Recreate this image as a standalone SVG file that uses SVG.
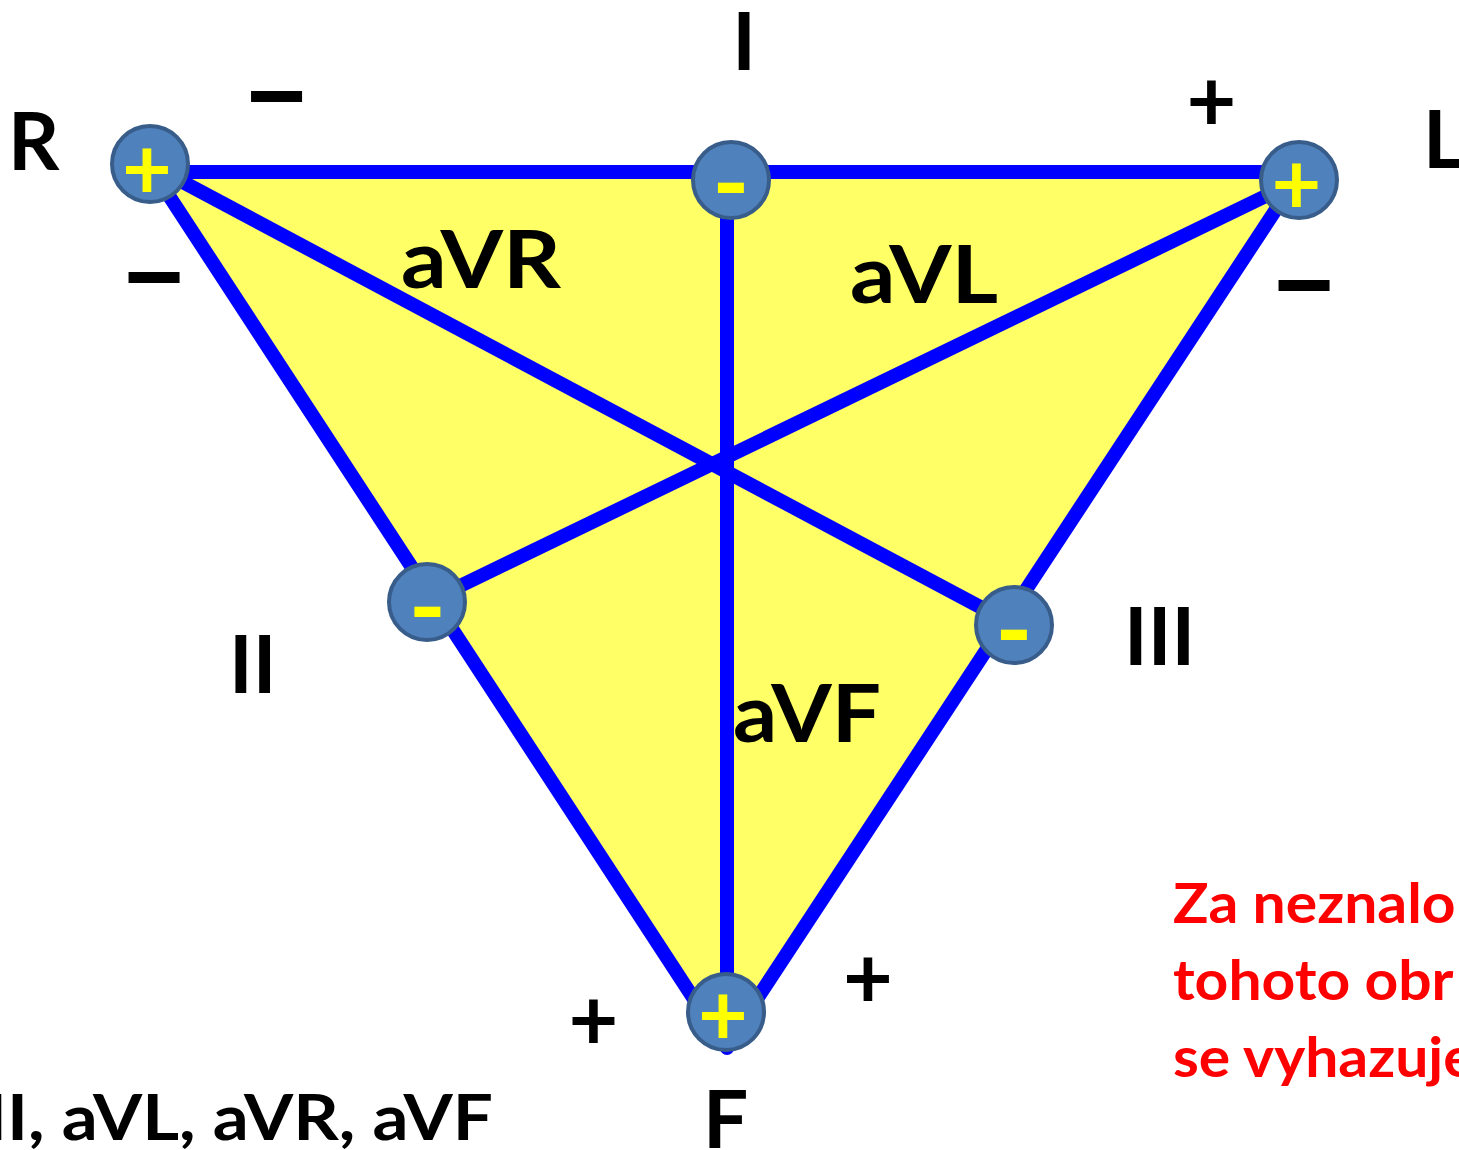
<svg xmlns="http://www.w3.org/2000/svg" width="1459" height="1150" viewBox="0 0 1459 1150">
<style>
.lbl{font-family:Lato,"Open Sans","Liberation Sans",sans-serif;font-weight:bold;fill:#000}
.big{font-size:80px}
.plus{font-size:86px;text-anchor:middle}
.dash{font-size:126px;text-anchor:middle}
.red{font-family:Lato,"Open Sans","Liberation Sans",sans-serif;font-weight:bold;font-size:56px;fill:#FF0000}
.node circle{fill:#4F81BD;stroke:#385D8A;stroke-width:4}
.node text{font-family:Lato,"Open Sans","Liberation Sans",sans-serif;font-weight:bold;fill:#FFFF00;text-anchor:middle}
.node .p{font-size:86px}
.node .m{font-size:100px}
.edge{stroke:#0000FF;stroke-width:14;fill:none;stroke-linecap:round}
</style>
<rect width="1459" height="1150" fill="#FFFFFF"/>
<polygon points="152,172 1296,172 727,1040" fill="#FFFF66"/>
<g id="connectors">
<line class="edge" x1="149" y1="172" x2="1299" y2="172"/>
<line class="edge" x1="160" y1="182" x2="724" y2="1045"/>
<line class="edge" x1="1290" y1="188" x2="730" y2="1040"/>
<line class="edge" x1="727" y1="180" x2="727" y2="1048"/>
<line class="edge" x1="149" y1="164" x2="1014" y2="625"/>
<line class="edge" x1="1299" y1="180" x2="427" y2="602"/>
</g>
<g id="node-R" class="node"><circle cx="150" cy="164" r="38"/><text class="p" x="147" y="199">+</text></g>
<g id="node-I" class="node"><circle cx="731" cy="180" r="38"/><text class="m" x="731" y="218">-</text></g>
<g id="node-L" class="node"><circle cx="1299" cy="180" r="38"/><text class="p" x="1296.5" y="214">+</text></g>
<g id="node-II" class="node"><circle cx="427" cy="602" r="38"/><text class="m" x="427.5" y="642">-</text></g>
<g id="node-III" class="node"><circle cx="1014" cy="625" r="38"/><text class="m" x="1014" y="664.5">-</text></g>
<g id="node-F" class="node"><circle cx="726" cy="1012" r="38"/><text class="p" x="723" y="1045">+</text></g>
<g id="labels">
<text class="lbl big" x="8" y="170">R</text>
<text class="lbl big" x="744" y="70" text-anchor="middle">I</text>
<text class="lbl big" x="1423" y="168">L</text>
<text class="lbl big" x="401" y="288" textLength="160" lengthAdjust="spacingAndGlyphs">aVR</text>
<text class="lbl big" x="850" y="303" textLength="148" lengthAdjust="spacingAndGlyphs">aVL</text>
<text class="lbl big" x="733" y="742" textLength="148" lengthAdjust="spacingAndGlyphs">aVF</text>
<text class="lbl big" x="229" y="693">II</text>
<text class="lbl big" x="1124" y="665">III</text>
<text class="lbl big" x="703" y="1148">F</text>
<text class="lbl dash" x="276.5" y="134">–</text>
<text class="lbl dash" x="154" y="315">–</text>
<text class="lbl dash" x="1304" y="323">–</text>
<text class="lbl plus" x="1211.5" y="131">+</text>
<text class="lbl plus" x="868" y="1008">+</text>
<text class="lbl plus" x="593.5" y="1050">+</text>
<text class="lbl" font-size="63" x="-14" y="1140" textLength="507" lengthAdjust="spacingAndGlyphs">II, aVL, aVR, aVF</text>
<g transform="translate(1173,0) scale(1.05,1) translate(-1173,0)">
<text class="red" x="1173" y="923">Za neznalo</text>
<text class="red" x="1173" y="1000">tohoto obr</text>
<text class="red" x="1173" y="1077">se vyhazuje</text>
</g>
</g>
</svg>
